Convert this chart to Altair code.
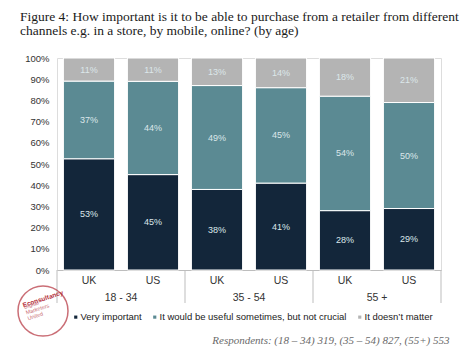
import altair as alt
import pandas as pd

ages = ["18 - 34", "18 - 34", "35 - 54", "35 - 54", "55 +", "55 +"]
countries = ["UK", "US", "UK", "US", "UK", "US"]
very_important = [53, 45, 38, 41, 28, 29]
useful = [37, 44, 49, 45, 54, 50]
doesnt_matter = [11, 11, 13, 14, 18, 21]
categories = ["Very important", "It would be useful sometimes, but not crucial", "It doesn\u2019t matter"]
colors = ["#13263a", "#5b8a93", "#b4b4b4"]
title_lines = [
    "Figure 4: How important is it to be able to purchase from a retailer from different",
    "channels e.g. in a store, by mobile, online? (by age)",
]
respondents = "Respondents: (18 \u2013 34) 319, (35 \u2013 54) 827, (55+) 553"
y_ticks = [0, 0.1, 0.2, 0.3, 0.4, 0.5, 0.6, 0.7, 0.8, 0.9, 1.0]

keys = [f"{a}|{c}" for a, c in zip(ages, countries)]
rows = []
for k, a, c, v1, v2, v3 in zip(keys, ages, countries, very_important, useful, doesnt_matter):
    for i, (cat, v) in enumerate(zip(categories, [v1, v2, v3])):
        rows.append(dict(key=k, age=a, country=c, category=cat, order=i, value=v))
df = pd.DataFrame(rows)

group_ages = ["18 - 34", "35 - 54", "55 +"]
first_keys = [k for k, c in zip(keys, countries) if c == "UK"]
second_keys = [k for k, c in zip(keys, countries) if c == "US"]

xscale = alt.Scale(domain=keys, paddingInner=0.2, paddingOuter=0.1)
yscale = alt.Scale(domain=[0, 1])
FONT = "Liberation Sans"

x_axis = alt.Axis(
    labelExpr="split(datum.label, '|')[1]", labelAngle=0, ticks=False,
    domainColor="#bdbdbd", domainWidth=1, labelPadding=5, labelFontSize=10.5,
    labelColor="#333333", labelFont=FONT,
    title=respondents, titleFont="Liberation Serif", titleFontStyle="italic",
    titleFontWeight="normal", titleFontSize=11, titleColor="#6a6a6a",
    titleX=392, titleY=73, titleAlign="right", titleBaseline="alphabetic",
)
y_axis = alt.Axis(
    format=".0%", values=y_ticks, grid=False, domain=False,
    ticks=False, labelPadding=8, labelFontSize=9.5, labelColor="#333333",
    labelFont=FONT, title=None, labelOverlap=False,
)

bars = alt.Chart(df).mark_bar(stroke="white", strokeWidth=1).encode(
    x=alt.X("key:N", scale=xscale, axis=x_axis, sort=keys),
    y=alt.Y("value:Q", stack="normalize", scale=yscale, axis=y_axis),
    color=alt.Color("category:N", scale=alt.Scale(domain=categories, range=colors),
                    legend=alt.Legend(orient="none", legendX=14, legendY=254,
                                      direction="horizontal", title=None,
                                      symbolType="square", symbolSize=10,
                                      symbolStrokeWidth=0, labelFontSize=9.5,
                                      labelFont=FONT, labelColor="#222222",
                                      labelLimit=400, labelOffset=0,
                                      columnPadding=8, symbolOffset=0)),
    order=alt.Order("order:Q"),
)

labels = alt.Chart(df).transform_stack(
    stack="value", as_=["y0", "y1"], groupby=["key"],
    sort=[alt.SortField("order")], offset="normalize",
).transform_calculate(
    mid="(datum.y0 + datum.y1) / 2", label="datum.value + '%'"
).mark_text(color="#dce7ea", fontSize=9, font=FONT).encode(
    x=alt.X("key:N", scale=xscale, sort=keys, axis=x_axis),
    y=alt.Y("mid:Q", scale=yscale, axis=y_axis),
    text="label:N",
)

sep_df = pd.DataFrame({"key": first_keys})
seps = alt.Chart(sep_df).mark_rule(color="#bdbdbd", xOffset=-6.4, y2Offset=33).encode(
    x=alt.X("key:N", scale=xscale, bandPosition=0, axis=x_axis),
    y=alt.Y(datum=0, scale=yscale, axis=y_axis), y2=alt.datum(0),
)
end_df = pd.DataFrame({"key": second_keys[-1:]})
sep_end = alt.Chart(end_df).mark_rule(color="#bdbdbd", xOffset=6.4, y2Offset=33).encode(
    x=alt.X("key:N", scale=xscale, bandPosition=1, axis=x_axis),
    y=alt.Y(datum=0, scale=yscale, axis=y_axis), y2=alt.datum(0),
)

age_df = pd.DataFrame({"key": second_keys, "age": group_ages})
age_text = alt.Chart(age_df).mark_text(
    xOffset=-6.4, yOffset=28, fontSize=10.5, font=FONT, color="#333333"
).encode(
    x=alt.X("key:N", scale=xscale, bandPosition=0, axis=x_axis),
    y=alt.Y(datum=0, scale=yscale, axis=y_axis),
    text="age:N",
)

logo_df = pd.DataFrame({"name": ["Econsultancy"]})
logo_circle = alt.Chart(logo_df).mark_point(
    shape="circle", size=2500, filled=False, stroke="#b5323d", strokeWidth=1.5
).encode(x=alt.value(-14), y=alt.value(253))
logo_name = alt.Chart(logo_df).mark_text(
    fontSize=6.5, fontWeight="bold", color="#b5323d", angle=342, font=FONT
).encode(x=alt.value(-14), y=alt.value(241), text="name:N")
logo_sub = alt.Chart(logo_df).mark_text(
    fontSize=5.5, color="#c86a72", angle=342, font=FONT, lineHeight=6,
    align="left", baseline="middle"
).encode(x=alt.value(-33), y=alt.value(249),
         text=alt.value(["Digital", "Marketers", "United"]))

chart = alt.layer(
    bars, labels, seps, sep_end, age_text, logo_circle, logo_name, logo_sub
).properties(
    width=384, height=212,
    autosize=alt.AutoSizeParams(type="none"),
    padding={"left": 57, "top": 58, "right": 27, "bottom": 84},
    title=alt.TitleParams(
        text=title_lines, anchor="start", frame="group", dx=-37,
        font="Liberation Serif", fontSize=13.5, fontWeight="normal",
        color="#1a1a1a", lineHeight=14, offset=16,
    ),
).configure_view(stroke=None).configure(background="white")

chart.save("out.html", embed_options={"renderer": "svg", "actions": False})
